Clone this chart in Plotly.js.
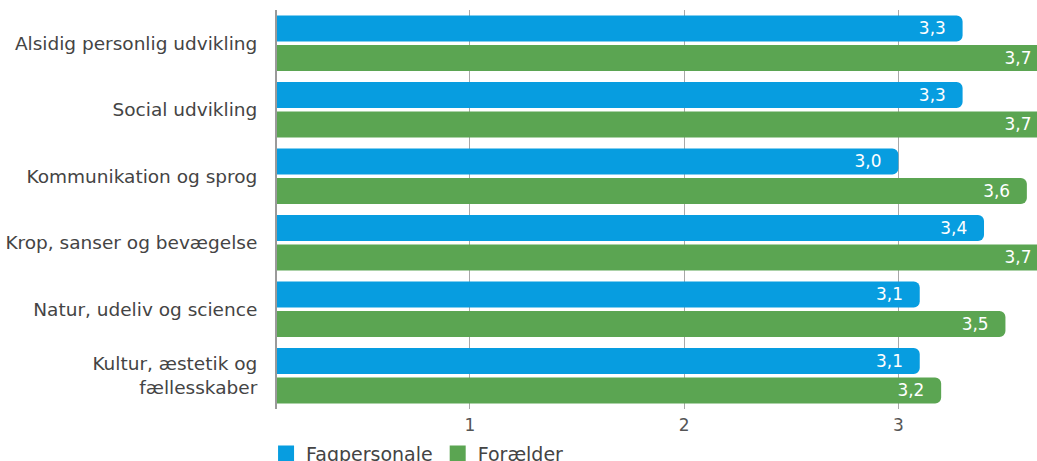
<!DOCTYPE html>
<html><head><meta charset="utf-8">
<script src="https://cdn.plot.ly/plotly-3.0.1.min.js"></script>
<style>html,body{margin:0;padding:0;overflow:hidden;background:#fff}</style>
</head><body><div id="chart"></div>
<script>
const categories = ["Alsidig personlig udvikling","Social udvikling","Kommunikation og sprog","Krop, sanser og bevægelse","Natur, udeliv og science","Kultur, æstetik og<br>fællesskaber"];
const seriesNames = ["Fagpersonale", "Forælder"];
const fagpersonale = [3.3, 3.3, 3.0, 3.4, 3.1, 3.1];
const foraelder = [3.7, 3.7, 3.6, 3.7, 3.5, 3.2];
const tickVals = [1, 2, 3];
const colors = ['#079de0', '#5ba552'];
const FONT = 'DejaVu Sans, Verdana, sans-serif';

const common = {
  type: 'bar', orientation: 'h', y: categories, showlegend: false,
  texttemplate: '%{x:.1f}\u00a0\u00a0', textposition: 'inside', insidetextanchor: 'end',
  textangle: 0, constraintext: 'none',
  insidetextfont: {family: FONT, size: 17, color: '#ffffff'},
  hoverinfo: 'skip'
};
const data = [
  Object.assign({}, common, {name: seriesNames[0], x: fagpersonale, marker: {color: colors[0], cornerradius: 6}}),
  Object.assign({}, common, {name: seriesNames[1], x: foraelder, marker: {color: colors[1], cornerradius: 6}})
];
// legend-only entries with larger square swatches
seriesNames.forEach((n, i) => data.push({
  type: 'scatter', mode: 'markers', name: n, x: [null], y: [null], showlegend: true,
  marker: {symbol: 'square', size: 20, color: colors[i]}, hoverinfo: 'skip'
}));

const layout = {
  width: 1060, height: 480,
  margin: {l: 277, r: 1, t: 10, b: 71},
  separators: ',.',
  barmode: 'group', bargap: 0.113, bargroupgap: 0.12,
  paper_bgcolor: '#fff', plot_bgcolor: '#fff',
  font: {family: FONT, color: '#4a4a4a'},
  xaxis: {range: [0.1, 3.75], tickvals: tickVals, showgrid: true, gridcolor: '#a8a8a8', gridwidth: 1,
          zeroline: false, showline: false, ticks: '', tickfont: {size: 17, color: '#555'},
          ticklabelstandoff: 4, automargin: false, fixedrange: true},
  yaxis: {autorange: 'reversed', showline: true, linecolor: '#9a9a9a', linewidth: 2, showgrid: false,
          ticks: '', tickfont: {size: 18.5, color: '#444'}, ticklabelstandoff: 14, automargin: false, fixedrange: true},
  showlegend: true,
  legend: {orientation: 'h', x: -0.014, xanchor: 'left', y: -0.064, yanchor: 'top',
           font: {size: 19, color: '#444'}, itemsizing: 'trace', tracegroupgap: 0}
};
Plotly.newPlot('chart', data, layout, {displayModeBar: false, staticPlot: true});
</script></body></html>
